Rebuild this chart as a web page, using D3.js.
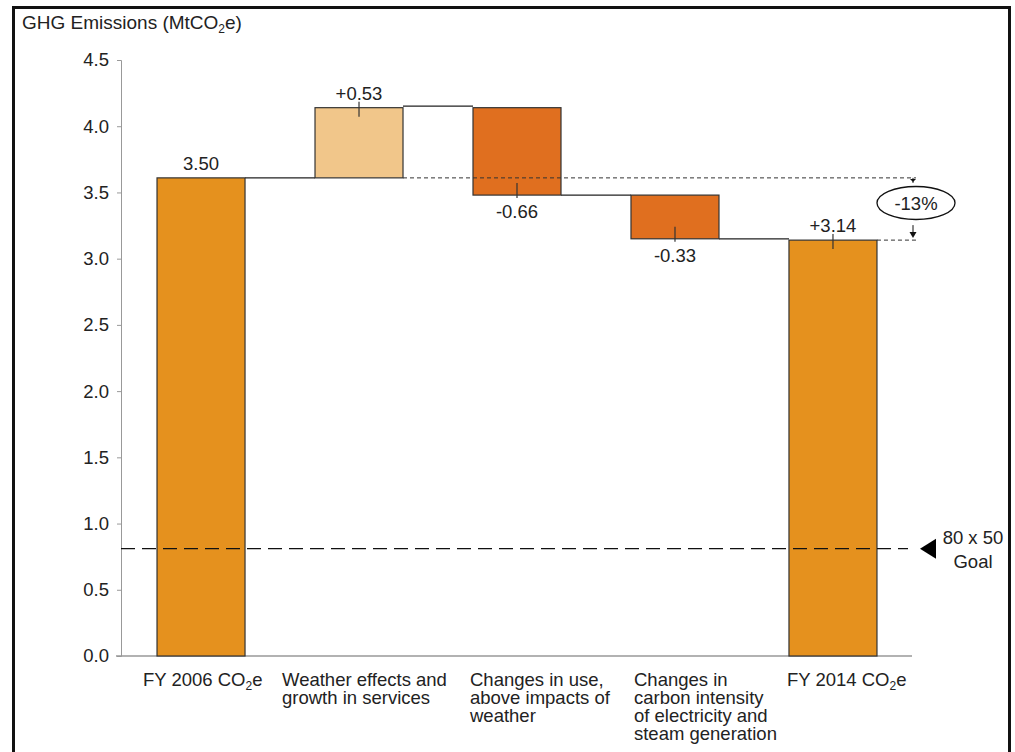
<!DOCTYPE html>
<html>
<head>
<meta charset="utf-8">
<script src="https://cdn.jsdelivr.net/npm/d3@7"></script>
<style>
  body { margin: 0; background: #fff; }
  svg { display: block; font-family: "Liberation Sans", Arial, sans-serif; }
</style>
</head>
<body>
<svg id="chart" width="1015" height="752"></svg>
<script>
// chart data
const categories = ["start", "weather", "use", "carbon", "end"];
const categoryLines = [
  ["FY 2006 CO|2|e"],
  ["Weather effects and", "growth in services"],
  ["Changes in use,", "above impacts of", "weather"],
  ["Changes in", "carbon  intensity", "of electricity and", "steam generation"],
  ["FY 2014 CO|2|e"]
];
const barValues = [3.61, 0.53, -0.66, -0.33, 3.14];   // bar heights as drawn
const barLabels = ["3.50", "+0.53", "-0.66", "-0.33", "+3.14"];
const barKinds = ["total", "delta", "delta", "delta", "total"];
const yTicks = [0, 0.5, 1, 1.5, 2, 2.5, 3, 3.5, 4, 4.5];
const goalValue = 0.81;
const changeLabel = "-13%";

const FS = 18.5;
const svg = d3.select("#chart");

// frame
svg.append("rect")
  .attr("x", 13.5).attr("y", 7.5)
  .attr("width", 996).attr("height", 760)
  .attr("fill", "none").attr("stroke", "#111").attr("stroke-width", 3);

// title with subscript
const title = svg.append("text").attr("x", 22).attr("y", 29)
  .attr("font-size", 19).attr("fill", "#222");
title.append("tspan").text("GHG Emissions (MtCO");
title.append("tspan").attr("font-size", 12).attr("dy", 4).text("2");
title.append("tspan").attr("dy", -4).text("e)");

const x = d3.scaleBand()
  .domain(categories)
  .range([121, 913])
  .paddingInner(0.443)
  .paddingOuter(0.228);

const y = d3.scaleLinear()
  .domain([0, 4.5])
  .range([656, 60]);

// waterfall levels
let level = 0;
const bars = categories.map((c, i) => {
  let lo, hi, from, to;
  if (barKinds[i] === "total") {
    lo = 0; hi = barValues[i]; from = 0; to = barValues[i];
    level = barValues[i];
  } else {
    from = level; to = level + barValues[i];
    lo = Math.min(from, to); hi = Math.max(from, to);
    level = to;
  }
  return { cat: c, lo, hi, from, to, i };
});
const fills = ["#e5911e", "#f1c68a", "#e06f1f", "#e06f1f", "#e5911e"];

// y axis
const yAxis = svg.append("g")
  .attr("transform", "translate(121,0)")
  .call(d3.axisLeft(y).tickValues(yTicks).tickFormat(d3.format(".1f")).tickSize(4).tickPadding(8));
yAxis.select(".domain").attr("stroke", "#999");
yAxis.selectAll(".tick line").attr("stroke", "#999");
yAxis.selectAll(".tick text").attr("font-size", FS).attr("fill", "#222")
  .attr("font-family", "Liberation Sans, Arial, sans-serif");

// x axis line
svg.append("line")
  .attr("x1", 116).attr("x2", 912)
  .attr("y1", y(0)).attr("y2", y(0))
  .attr("stroke", "#999").attr("stroke-width", 1.5);

// connectors
for (let i = 0; i < bars.length - 1; i++) {
  const lv = bars[i].to;
  svg.append("line")
    .attr("x1", x(bars[i].cat) + x.bandwidth())
    .attr("x2", x(bars[i + 1].cat))
    .attr("y1", y(lv) - (i === 1 ? 1.5 : 0)).attr("y2", y(lv) - (i === 1 ? 1.5 : 0))
    .attr("stroke", "#222").attr("stroke-width", 1.2);
}

// bars
svg.selectAll("rect.bar")
  .data(bars)
  .enter()
  .append("rect")
  .attr("class", "bar")
  .attr("x", d => x(d.cat))
  .attr("y", d => y(d.hi))
  .attr("width", x.bandwidth())
  .attr("height", d => y(d.lo) - y(d.hi))
  .attr("fill", (d, i) => fills[i])
  .attr("stroke", "#333").attr("stroke-width", 1.2);

// reference dashed lines
const startLevel = bars[0].to, endLevel = bars[4].to;
svg.append("line")
  .attr("x1", x(categories[1]) + x.bandwidth()).attr("x2", 916)
  .attr("y1", y(startLevel)).attr("y2", y(startLevel))
  .attr("stroke", "#333").attr("stroke-dasharray", "4,3");
svg.append("line")
  .attr("x1", x(categories[4]) + x.bandwidth()).attr("x2", 916)
  .attr("y1", y(endLevel)).attr("y2", y(endLevel))
  .attr("stroke", "#333").attr("stroke-dasharray", "4,3");

// goal line
svg.append("line")
  .attr("x1", 121).attr("x2", 908)
  .attr("y1", y(goalValue)).attr("y2", y(goalValue))
  .attr("stroke", "#111").attr("stroke-width", 1.3).attr("stroke-dasharray", "14,7");
const gy = y(goalValue);
svg.append("path")
  .attr("d", `M920,${gy} L936,${gy - 10} L936,${gy + 10} Z`)
  .attr("fill", "#000");
svg.append("text").attr("x", 973).attr("y", gy - 5).attr("text-anchor", "middle")
  .attr("font-size", FS).attr("fill", "#222").text("80 x 50");
svg.append("text").attr("x", 973).attr("y", gy + 19).attr("text-anchor", "middle")
  .attr("font-size", FS).attr("fill", "#222").text("Goal");

// -13% marker
const ax = 913;
svg.append("line").attr("x1", ax).attr("x2", ax)
  .attr("y1", y(startLevel)).attr("y2", y(startLevel) + 5).attr("stroke", "#111");
svg.append("path")
  .attr("d", `M${ax - 3},${y(startLevel) + 1} L${ax + 3},${y(startLevel) + 1} L${ax},${y(startLevel) + 4} Z`)
  .attr("fill", "#111");
svg.append("line").attr("x1", ax).attr("x2", ax)
  .attr("y1", y(endLevel) - 15).attr("y2", y(endLevel) - 4).attr("stroke", "#111");
svg.append("path")
  .attr("d", `M${ax - 3.5},${y(endLevel) - 8} L${ax + 3.5},${y(endLevel) - 8} L${ax},${y(endLevel) - 2} Z`)
  .attr("fill", "#111");
const midY = (y(startLevel) + y(endLevel)) / 2 - 6;
svg.append("ellipse").attr("cx", 916).attr("cy", midY)
  .attr("rx", 39).attr("ry", 16.5)
  .attr("fill", "#fff").attr("stroke", "#111").attr("stroke-width", 1.3);
svg.append("text").attr("x", 916).attr("y", midY + 6.5).attr("text-anchor", "middle")
  .attr("font-size", FS).attr("fill", "#222").text(changeLabel);

// value labels with tick marks
bars.forEach((d, i) => {
  const cx = x(d.cat) + x.bandwidth() / 2;
  const down = barValues[i] < 0;
  const edge = down ? y(d.lo) : y(d.hi);
  if (i > 0) {
    svg.append("line").attr("x1", cx).attr("x2", cx)
      .attr("y1", edge - (down ? 12 : 6)).attr("y2", edge + (down ? 3 : 9))
      .attr("stroke", "#333").attr("stroke-width", 1.2);
  }
  svg.append("text")
    .attr("x", cx)
    .attr("y", down ? edge + 23 : edge - 8)
    .attr("text-anchor", "middle")
    .attr("font-size", FS).attr("fill", "#222")
    .text(barLabels[i]);
});

// category labels (left-aligned blocks)
const labelDx = [-58, -77, -47, -41, -46];
categoryLines.forEach((lines, i) => {
  const lx = x(categories[i]) + x.bandwidth() / 2 + labelDx[i];
  lines.forEach((ln, k) => {
    const t = svg.append("text").attr("x", lx).attr("y", 686 + k * 18)
      .attr("font-size", FS).attr("fill", "#222");
    const parts = ln.split("|");
    if (parts.length === 3) {
      t.append("tspan").text(parts[0]);
      t.append("tspan").attr("font-size", 12).attr("dy", 4).text(parts[1]);
      t.append("tspan").attr("dy", -4).text(parts[2]);
    } else {
      t.text(ln);
    }
  });
});
</script>
</body>
</html>
